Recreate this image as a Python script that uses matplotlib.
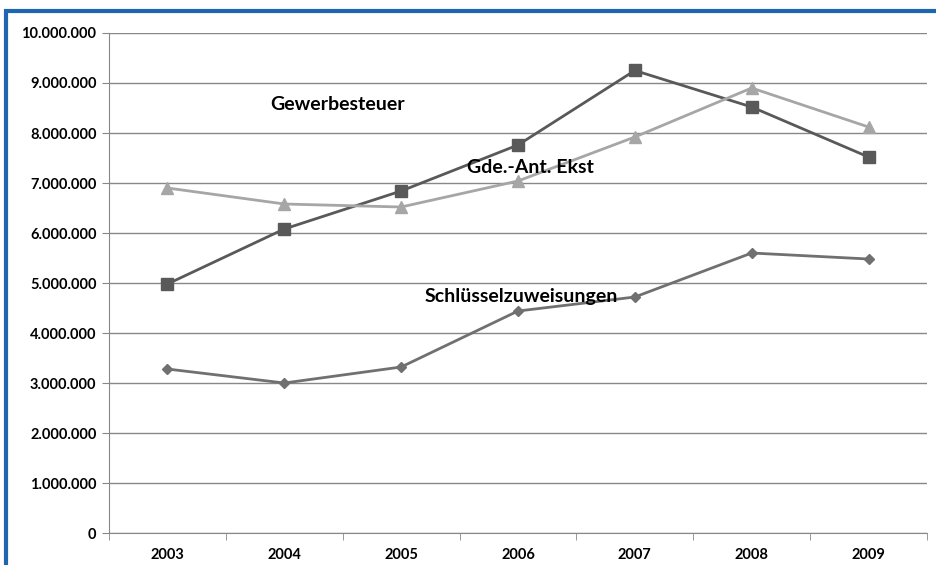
import numpy as np
import matplotlib.pyplot as plt
from matplotlib.ticker import FuncFormatter, FixedLocator
from matplotlib.patches import Rectangle

jahre = ['2003', '2004', '2005', '2006', '2007', '2008', '2009']
gewerbesteuer = [4980000, 6080000, 6840000, 7760000, 9250000, 8520000, 7520000]
gde_ant_ekst = [6900000, 6580000, 6520000, 7040000, 7920000, 8900000, 8120000]
schluesselzuw = [3280000, 3000000, 3320000, 4440000, 4720000, 5600000, 5480000]

plt.rcParams['font.family'] = ['Lato', 'DejaVu Sans']
plt.rcParams['font.weight'] = 'bold'

fig = plt.figure(figsize=(9.37, 5.65), dpi=100)
ax = fig.add_axes([0.1163, 0.0566, 0.873, 0.885])

x = np.arange(len(jahre))
ax.plot(x, gewerbesteuer, color='#595959', lw=2, marker='s', ms=8, zorder=3)
ax.plot(x, gde_ant_ekst, color='#A6A6A6', lw=2, marker='^', ms=8, zorder=3)
ax.plot(x, schluesselzuw, color='#707070', lw=2, marker='D', ms=5.5, zorder=3)

ax.set_xlim(-0.5, len(jahre) - 0.5)
ax.set_ylim(0, 10000000)
ax.set_yticks(np.arange(0, 10000001, 1000000))
ax.yaxis.set_major_formatter(FuncFormatter(lambda v, p: f'{int(v):,}'.replace(',', '.')))
ax.set_xticks(x)
ax.set_xticklabels(jahre)
ax.xaxis.set_minor_locator(FixedLocator(np.arange(-0.5, len(jahre), 1)))
ax.tick_params(axis='x', which='major', length=0, pad=11, labelsize=10.5)
ax.tick_params(axis='x', which='minor', length=5, color='#888888', direction='out')
ax.tick_params(axis='y', length=5, color='#888888', labelsize=10.5, pad=4)
for lbl in ax.get_xticklabels() + ax.get_yticklabels():
    lbl.set_fontweight('bold')

ax.grid(axis='y', color='#888888', lw=1)
ax.set_axisbelow(True)
for s in ['top', 'right']:
    ax.spines[s].set_visible(False)
ax.spines['left'].set_color('#888888')
ax.spines['bottom'].set_color('#888888')

ax.text(0.878, 8560000, 'Gewerbesteuer', fontsize=14, fontweight='bold', va='center')
ax.text(2.563, 7320000, 'Gde.-Ant. Ekst', fontsize=14, fontweight='bold', va='center')
ax.text(2.204, 4740000, 'Schlüsselzuweisungen', fontsize=14, fontweight='bold', va='center')

# blauer Rahmen
fig.patches.append(Rectangle((6.5 / 937, -0.1), 1.2, 1.1 - 10.5 / 565, transform=fig.transFigure,
                             fill=False, ec='#1F66B0', lw=3))

fig.savefig('out.png', dpi=100)
